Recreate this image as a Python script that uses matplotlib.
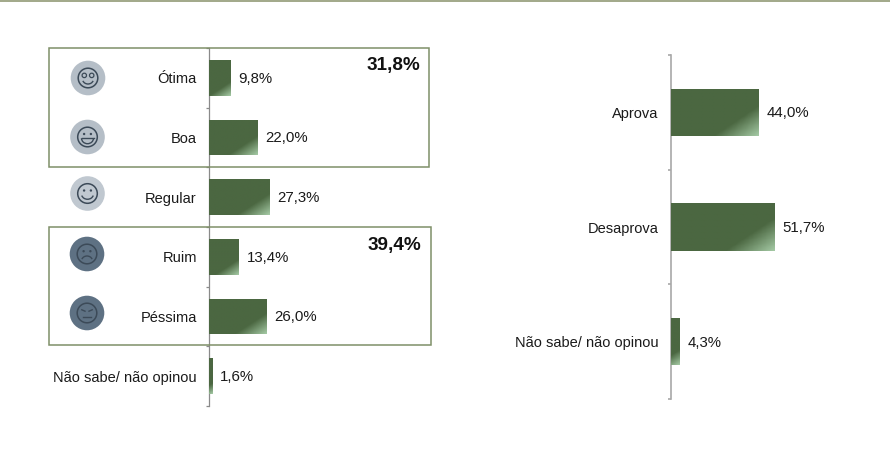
import numpy as np
from matplotlib import pyplot as plt
from matplotlib.colors import LinearSegmentedColormap
from matplotlib.patches import Circle, Rectangle, Arc

plt.rcParams['font.family'] = ['Liberation Sans', 'DejaVu Sans']

W, H = 890, 451

rating_labels = ['Ótima', 'Boa', 'Regular', 'Ruim', 'Péssima', 'Não sabe/ não opinou']
rating_values = [9.8, 22.0, 27.3, 13.4, 26.0, 1.6]
approval_labels = ['Aprova', 'Desaprova', 'Não sabe/ não opinou']
approval_values = [44.0, 51.7, 4.3]
good_total = '31,8%'
bad_total = '39,4%'

TEXT = '#1a1a1a'
BOX = '#7f9068'
cmap = LinearSegmentedColormap.from_list(
    'bar', [(0, '#4b6741'), (0.72, '#4b6741'), (1, '#a3c8a3')])


def pct(v):
    return f'{v:.1f}%'.replace('.', ',')


def make_axes(x0, x1, y0, y1):
    return fig.add_axes([x0 / W, 1 - y1 / H, (x1 - x0) / W, (y1 - y0) / H])


def bar_chart(ax, labels, values, xmax, height, axis_color, axis_width):
    n = len(values)
    ys = np.arange(n)
    bbox = ax.get_position()
    px_x = bbox.width * W / xmax
    px_y = bbox.height * H / n
    bars = ax.barh(ys, values, height=height, color='#4b6741', zorder=2)
    # gradient running to the lower right corner of each bar, same angle in pixels
    for bar in bars:
        x, y = bar.get_x(), bar.get_y()
        w, h = bar.get_width() * px_x, bar.get_height() * px_y
        u, v = np.meshgrid(np.linspace(0, w, 80), np.linspace(0, h, 40))
        im = ax.imshow((2 * u + 3 * v) / (2 * w + 3 * h), cmap=cmap, vmin=0, vmax=1,
                       extent=(x, x + bar.get_width(), y + bar.get_height(), y),
                       aspect='auto', zorder=3)
        im.set_clip_path(bar)
    for y, val in zip(ys, values):
        ax.annotate(pct(val), (val, y), xytext=(5.6, -0.7), textcoords='offset points',
                    va='center', ha='left', fontsize=10.8, color=TEXT, zorder=4)
    ax.set_xlim(0, xmax)
    ax.set_ylim(n - 0.5, -0.5)
    ax.set_yticks(ys)
    ax.set_yticklabels(labels, fontsize=10.5, color=TEXT)
    ax.set_yticks(np.arange(n + 1) - 0.5, minor=True)
    ax.tick_params(axis='y', which='major', length=0, pad=8.8)
    ax.tick_params(axis='y', which='minor', length=2.5, color=axis_color, width=axis_width)
    ax.xaxis.set_visible(False)
    for side in ['top', 'right', 'bottom']:
        ax.spines[side].set_visible(False)
    ax.spines['left'].set_color(axis_color)
    ax.spines['left'].set_linewidth(axis_width)
    ax.patch.set_alpha(0)


def face(ax, cx, cy, fill, kind):
    line = '#3c4a58'
    ax.add_patch(Circle((cx, cy), 17.3, fc=fill, ec='none'))
    ax.add_patch(Circle((cx, cy), 9.8, fc='none', ec=line, lw=1.1))
    if kind == 'otima':
        for dx in (-3.7, 3.7):
            ax.add_patch(Circle((cx + dx, cy - 2.6), 2.2, fc='none', ec=line, lw=0.9))
        ax.add_patch(Arc((cx, cy + 1), 11, 10, theta1=20, theta2=160, ec=line, lw=1))
    elif kind == 'boa':
        for dx in (-3.4, 3.4):
            ax.add_patch(Circle((cx + dx, cy - 3), 1.2, fc=line, ec='none'))
        ax.plot([cx - 6, cx + 6], [cy + 1.2, cy + 1.2], color=line, lw=1)
        ax.add_patch(Arc((cx, cy + 1.2), 12, 11, theta1=0, theta2=180, ec=line, lw=1))
    elif kind == 'regular':
        for dx in (-3.4, 3.4):
            ax.add_patch(Circle((cx + dx, cy - 3), 1.2, fc=line, ec='none'))
        ax.add_patch(Arc((cx, cy + 0.5), 12, 10.5, theta1=15, theta2=165, ec=line, lw=1))
    elif kind == 'ruim':
        for dx in (-3.4, 3.4):
            ax.add_patch(Circle((cx + dx, cy - 2.8), 1.2, fc=line, ec='none'))
        ax.add_patch(Arc((cx, cy + 7), 11, 10, theta1=200, theta2=340, ec=line, lw=1))
    else:
        for dx, tilt in ((-3.6, -0.7), (3.6, 0.7)):
            ax.plot([cx + dx - 1.6, cx + dx + 1.6], [cy - 2.5 + tilt, cy - 2.5 - tilt],
                    color=line, lw=1)
        ax.plot([cx - 4, cx + 4], [cy + 4, cy + 4], color=line, lw=1)


fig = plt.figure(figsize=(W / 100, H / 100), dpi=100, facecolor='white')

ax_left = make_axes(209, 209 + 222, 48, 406)
bar_chart(ax_left, rating_labels, rating_values, 100, 0.603, '#8a8a8a', 0.9)

ax_right = make_axes(671, 671 + 200, 55, 399)
bar_chart(ax_right, approval_labels, approval_values, 100, 0.41, '#a8a8a8', 1.2)

# overlay in pixel coordinates for boxes, icons and the top rule
over = fig.add_axes([0, 0, 1, 1], zorder=5)
over.set_xlim(0, W)
over.set_ylim(H, 0)
over.axis('off')
over.patch.set_alpha(0)

over.add_patch(Rectangle((0, 0), W, 2, fc='#a3aa8c', ec='none'))
over.add_patch(Rectangle((49, 48), 380, 118.5, fc='none', ec=BOX, lw=1.1))
over.add_patch(Rectangle((49, 226.5), 381.5, 118.5, fc='none', ec=BOX, lw=1.1))
over.text(420.5, 65.5, good_total, ha='right', va='center', fontsize=13.6, fontweight='bold', color='#111111')
over.text(421.5, 245.5, bad_total, ha='right', va='center', fontsize=13.6, fontweight='bold', color='#111111')

face(over, 88, 78, '#b5bec7', 'otima')
face(over, 87.5, 137, '#b5bec7', 'boa')
face(over, 87.5, 193.5, '#c0c8d0', 'regular')
face(over, 87, 254, '#5e7183', 'ruim')
face(over, 87, 313, '#5e7183', 'pessima')

fig.savefig('out.png', dpi=100)
